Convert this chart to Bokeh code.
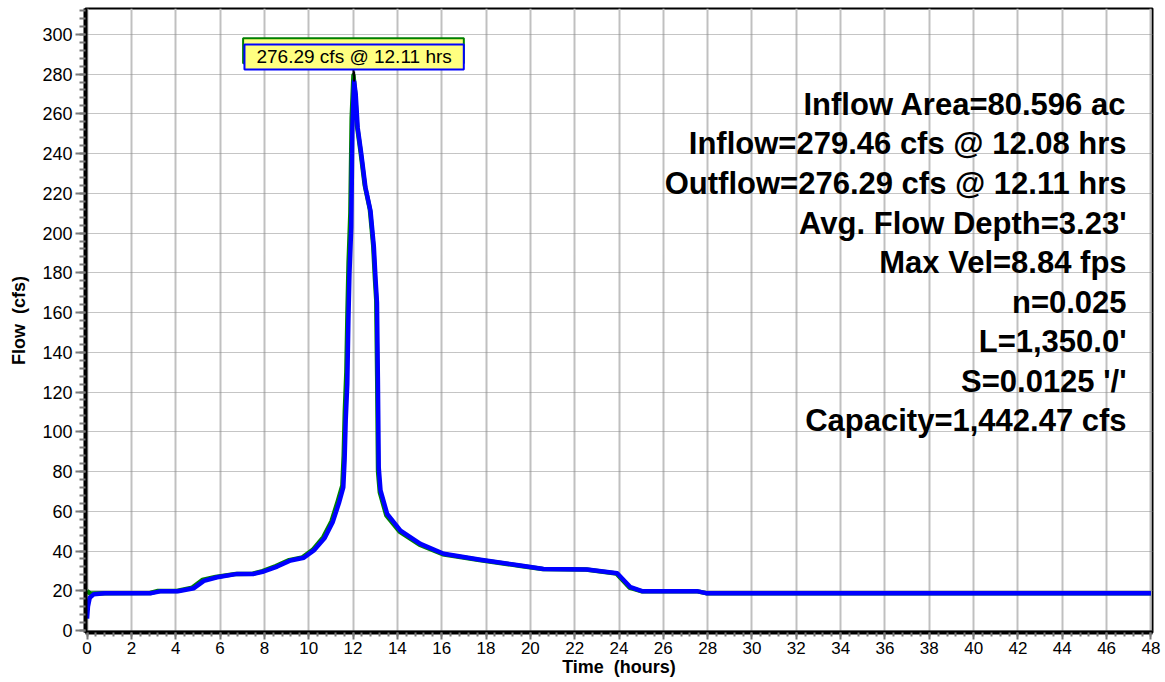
from bokeh.plotting import figure
from bokeh.models import Range1d, SingleIntervalTicker, Label
from bokeh.embed import file_html
from bokeh.resources import INLINE

# ---------------- data ----------------
outflow_hours = [0.00, 0.04, 0.12, 0.30, 0.80, 2.90, 3.30, 4.10, 4.82, 5.27, 5.87, 6.78,
                 7.52, 7.97, 8.58, 9.18, 9.78, 10.23, 10.72, 11.08, 11.36, 11.56, 11.62,
                 11.67, 11.74, 11.79, 11.84, 11.92, 11.97, 12.05, 12.12, 12.21, 12.37,
                 12.56, 12.79, 12.94, 13.02, 13.08, 13.12, 13.16, 13.24, 13.54, 14.14,
                 15.04, 16.09, 17.75, 19.55, 20.60, 22.56, 23.92, 24.52, 25.04, 27.52,
                 27.97, 48.00]
outflow_cfs = [6.0, 12.0, 16.5, 18.2, 18.8, 18.8, 19.7, 19.8, 21.3, 25.0, 26.8, 28.5,
               28.5, 29.7, 32.2, 35.2, 36.6, 40.3, 46.5, 54.5, 64.0, 72.0, 86.0,
               106.0, 124.0, 156.0, 180.0, 203.0, 253.0, 276.29, 270.0, 253.0, 240.0,
               223.0, 211.0, 193.0, 176.0, 165.0, 127.5, 82.0, 70.5, 58.7, 50.3,
               43.6, 38.6, 35.6, 32.7, 31.0, 30.7, 28.8, 21.8, 19.8, 19.8,
               18.7, 18.7]

inflow_hours = [0.00, 0.15, 0.80, 2.85, 3.20, 4.05, 4.75, 5.20, 5.80, 6.72, 7.48, 7.92,
                8.52, 9.12, 9.72, 10.18, 10.66, 11.03, 11.31, 11.52, 11.58, 11.63,
                11.70, 11.75, 11.80, 11.88, 11.94, 12.02, 12.09, 12.18, 12.34, 12.53,
                12.76, 12.91, 12.99, 13.05, 13.09, 13.13, 13.21, 13.50, 14.10, 15.00,
                16.05, 17.70, 19.50, 20.55, 22.50, 23.88, 24.47, 25.00, 27.48, 27.93,
                48.00]
inflow_cfs = [19.8, 18.6, 18.8, 18.9, 19.9, 19.9, 21.6, 25.4, 26.9, 28.5, 28.6, 29.9,
              32.4, 35.4, 36.8, 40.6, 47.0, 55.0, 65.0, 73.0, 88.0, 110.0,
              130.0, 160.0, 185.0, 210.0, 258.0, 279.46, 271.0, 254.0, 241.0, 224.0,
              212.0, 194.0, 177.0, 166.0, 128.0, 80.0, 69.5, 58.0, 49.8, 43.2,
              38.4, 35.5, 32.6, 31.0, 30.7, 28.7, 21.6, 19.8, 19.8, 18.8,
              18.7]

inflow_peak_text = "279.46 cfs @ 12.08 hrs"
outflow_peak_text = "276.29 cfs @ 12.11 hrs"

info_lines = [
    "Inflow Area=80.596 ac",
    "Inflow=279.46 cfs @ 12.08 hrs",
    "Outflow=276.29 cfs @ 12.11 hrs",
    "Avg. Flow Depth=3.23'",
    "Max Vel=8.84 fps",
    "n=0.025",
    "L=1,350.0'",
    "S=0.0125 '/'",
    "Capacity=1,442.47 cfs",
]

x_axis_title = "Time\u00a0\u00a0(hours)"
y_axis_title = "Flow\u00a0\u00a0(cfs)"

# ---------------- figure ----------------
FONT = "Liberation Sans"
X_MIN, X_MAX = -0.07, 48.07
Y_MIN, Y_MAX = -1.0, 313.0
FRAME_H = 624

p = figure(width=1164, height=681, output_backend="svg", toolbar_location=None,
           x_range=Range1d(X_MIN, X_MAX), y_range=Range1d(Y_MIN, Y_MAX),
           min_border_left=85, min_border_right=12, min_border_top=8,
           min_border_bottom=49, background_fill_color="white",
           border_fill_color="white")

p.outline_line_color = "black"
p.outline_line_width = 2

p.xaxis.ticker = SingleIntervalTicker(interval=2, num_minor_ticks=5)
p.yaxis.ticker = SingleIntervalTicker(interval=20, num_minor_ticks=5)

for ax in (p.xaxis, p.yaxis):
    ax.axis_line_color = "black"
    ax.axis_line_width = 4
    ax.major_tick_line_color = "#7a7a7a"
    ax.major_tick_line_width = 2
    ax.minor_tick_line_color = "#7a7a7a"
    ax.minor_tick_line_width = 2
    ax.major_tick_in = 0
    ax.minor_tick_in = 0
    ax.major_label_text_font = FONT
    ax.major_label_text_color = "black"
    ax.axis_label_text_font = FONT
    ax.axis_label_text_font_style = "bold"
    ax.axis_label_text_color = "black"

p.yaxis.major_tick_out = 10
p.yaxis.minor_tick_out = 6
p.yaxis.major_label_standoff = 3
p.yaxis.major_label_text_font_size = "18px"
p.yaxis.axis_label = y_axis_title
p.yaxis.axis_label_text_font_size = "18px"
p.yaxis.axis_label_standoff = 10

p.xaxis.major_tick_out = 7
p.xaxis.minor_tick_out = 4
p.xaxis.major_label_standoff = 2
p.xaxis.major_label_text_font_size = "17px"
p.xaxis.axis_label = x_axis_title
p.xaxis.axis_label_text_font_size = "18px"
p.xaxis.axis_label_standoff = 0

p.xgrid.grid_line_color = "#c0c0c0"
p.xgrid.grid_line_width = 2
p.ygrid.grid_line_color = "#8a8a8a"
p.ygrid.grid_line_width = 1
p.ygrid.grid_line_dash = "1 1"

# hydrographs
p.line(inflow_hours, inflow_cfs, line_color="#008000", line_width=4.5, line_join="round")
p.line(outflow_hours, outflow_cfs, line_color="#0000ff", line_width=4.5, line_join="round")

# peak call-outs
px_per_unit = FRAME_H / (Y_MAX - Y_MIN)
GAP = 10  # px between peak and box


def peak_of(hours, flows):
    i = max(range(len(flows)), key=lambda k: flows[k])
    return hours[i], flows[i]


for (hrs, flw, txt, col) in ((inflow_hours, inflow_cfs, inflow_peak_text, "#008000"),
                             (outflow_hours, outflow_cfs, outflow_peak_text, "#0000ff")):
    t_pk, q_pk = peak_of(hrs, flw)
    p.segment(x0=[t_pk], y0=[q_pk], x1=[t_pk], y1=[q_pk + GAP / px_per_unit],
              line_color="black", line_width=2)
    p.add_layout(Label(x=t_pk, y=q_pk, text=txt, text_align="center",
                       text_baseline="bottom", y_offset=GAP + 2,
                       text_font=FONT, text_font_size="19px", text_color="black",
                       background_fill_color="#ffff80", background_fill_alpha=1.0,
                       border_line_color=col, border_line_width=2,
                       padding=dict(left=12, right=12, top=2, bottom=2)))

# info block (right aligned)
TEXT_X = 46.9
TEXT_TOP = 264.7
TEXT_STEP = 19.88
for k, line in enumerate(info_lines):
    p.add_layout(Label(x=TEXT_X, y=TEXT_TOP - k * TEXT_STEP, text=line,
                       text_align="right", text_baseline="alphabetic",
                       text_font=FONT, text_font_size="31px",
                       text_font_style="bold", text_color="black"))

open("out.html", "w").write(file_html(p, INLINE))
